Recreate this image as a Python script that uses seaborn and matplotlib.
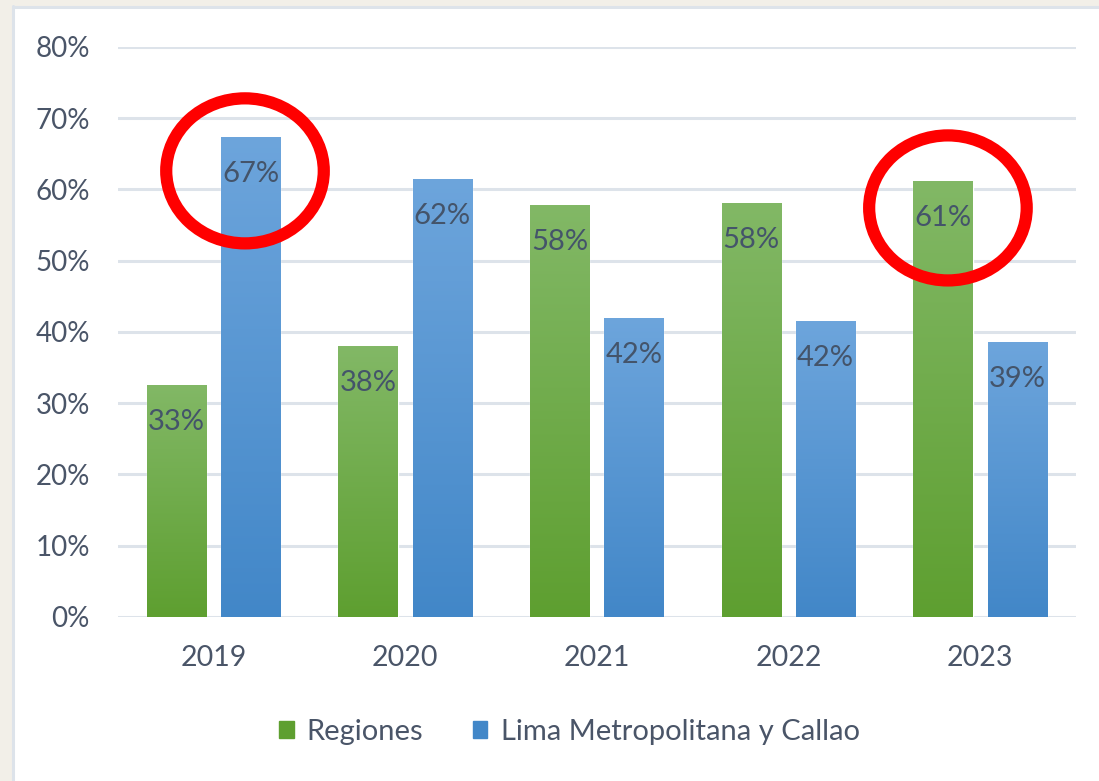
import numpy as np
import pandas as pd
import matplotlib
matplotlib.use('Agg')
import matplotlib.pyplot as plt
import seaborn as sns
from matplotlib.patches import Ellipse, Rectangle
from matplotlib.lines import Line2D

# Données
annees = ['2019', '2020', '2021', '2022', '2023']
regiones = [0.326, 0.380, 0.578, 0.581, 0.612]
lima = [0.674, 0.615, 0.420, 0.415, 0.386]
series = ['Regiones', 'Lima Metropolitana y Callao']
# barres entourées en rouge : (série, année)
cercles = [('Lima Metropolitana y Callao', '2019'), ('Regiones', '2023')]

df = pd.DataFrame({
    'Año': annees * 2,
    'Valor': regiones + lima,
    'Serie': [series[0]] * len(annees) + [series[1]] * len(annees),
})

# couleurs (haut / bas du dégradé)
grad = {
    series[0]: ('#82B866', '#5E9F30'),
    series[1]: ('#6DA5DC', '#4287C8'),
}
txt_col = '#4A5568'

sns.set_theme(style='white')
plt.rcParams['font.family'] = ['Lato', 'DejaVu Sans']

fig = plt.figure(figsize=(10.99, 7.81), dpi=100)
fig.patch.set_facecolor('white')

# cadre beige autour du graphique
fig.patches.append(Rectangle((0, 0), 0.010, 1, transform=fig.transFigure, color='#F2EFE8', zorder=-2))
fig.patches.append(Rectangle((0, 0.993), 1, 0.007, transform=fig.transFigure, color='#F2EFE8', zorder=-2))
fig.add_artist(Line2D([0.0115, 0.0115], [0, 0.992], transform=fig.transFigure, color='#DDE3EA', lw=2.2))
fig.add_artist(Line2D([0.0115, 1], [0.9915, 0.9915], transform=fig.transFigure, color='#DDE3EA', lw=2.2))

ax = fig.add_axes([0.107, 0.210, 0.872, 0.730])

palette = {s: grad[s][0] for s in series}
sns.barplot(data=df, x='Año', y='Valor', hue='Serie', hue_order=series,
            palette=palette, width=0.775, gap=0.203, ax=ax, legend=False,
            saturation=1, zorder=3)

ax.set_ylim(0, 0.8)
ax.set_xlim(-0.5, 4.5)
ax.set_yticks(np.arange(0, 0.81, 0.1))
ax.set_yticklabels([f'{int(round(v * 100))}%' for v in np.arange(0, 0.81, 0.1)])
ax.yaxis.grid(True, color='#DDE3EA', lw=2.2, zorder=0)
ax.set_axisbelow(True)
for s in ax.spines.values():
    s.set_visible(False)
ax.set_xlabel('')
ax.set_ylabel('')
ax.tick_params(axis='y', labelsize=20, colors=txt_col, pad=20, length=0)
ax.tick_params(axis='x', labelsize=20.5, colors=txt_col, pad=20, length=0)

# dégradé vertical dans chaque barre + étiquettes
gradient = np.linspace(0, 1, 256).reshape(-1, 1)
positions = {}
for container, serie in zip(ax.containers, series):
    top, bot = grad[serie]
    cmap = matplotlib.colors.LinearSegmentedColormap.from_list(serie, [bot, top])
    for bar, an in zip(container, annees):
        x0, y0 = bar.get_x(), bar.get_y()
        w, h = bar.get_width(), bar.get_height()
        im = ax.imshow(gradient, extent=[x0, x0 + w, y0, y0 + h], origin='lower',
                       cmap=cmap, aspect='auto', zorder=4)
        im.set_clip_path(bar)
        ax.annotate(f'{h * 100:.0f}%', (x0 + w / 2, h), xytext=(0, -24),
                    textcoords='offset pixels', ha='center', va='top',
                    fontsize=21, color='#44546A', zorder=6)
        positions[(serie, an)] = (x0 + w / 2, h)

ax.set_xlim(-0.5, 4.5)
ax.set_ylim(0, 0.8)

# cercles rouges
decal = [(-0.029, 0.048), (0.026, 0.038)]
for (serie, an), (dx, dy) in zip(cercles, decal):
    cx, h = positions[(serie, an)]
    ax.add_patch(Ellipse((cx + dx, h - dy), 0.822, 0.2035, fill=False,
                         edgecolor='#FF0000', lw=8.8, zorder=7, clip_on=False))

# légende
handles = [Rectangle((0, 0), 1, 1, color=grad[s][1]) for s in series]
fig.legend(handles, series, loc='center', bbox_to_anchor=(0.518, 0.063), ncol=2,
           frameon=False, fontsize=21, handlelength=0.5, handleheight=0.5,
           handletextpad=0.45, columnspacing=1.7, labelcolor=txt_col)

plt.savefig('out.png', dpi=100)
